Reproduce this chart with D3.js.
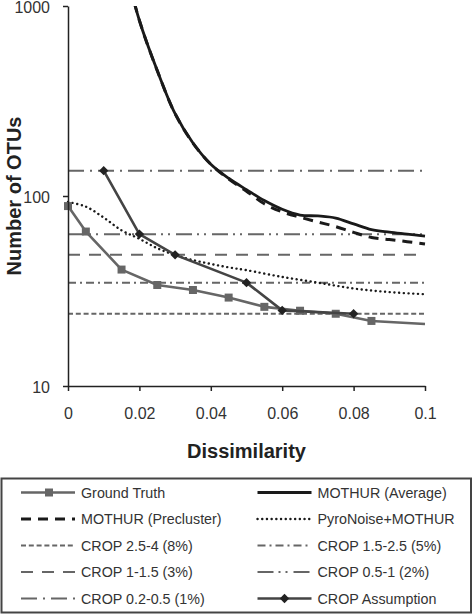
<!DOCTYPE html>
<html>
<head>
<meta charset="utf-8">
<script src="https://cdn.jsdelivr.net/npm/d3@7"></script>
<style>
  html, body { margin: 0; padding: 0; background: #fff; }
  svg { display: block; font-family: Arial, "Liberation Sans", sans-serif; }
</style>
</head>
<body>
<svg id="chart" width="475" height="614"></svg>
<script>
// ---------------- data ----------------
const xTicks = [0, 0.02, 0.04, 0.06, 0.08, 0.1];
const yTicks = [10, 100, 1000];

const groundTruthX = [0, 0.005, 0.015, 0.025, 0.035, 0.045, 0.055, 0.065, 0.075, 0.085];
const groundTruthY = [88.5, 65, 41, 34, 32, 29.2, 26.1, 24.9, 24, 22];
const groundTruthTailX = [0.1];
const groundTruthTailY = [21.2];

const mothurX = [0.015, 0.02, 0.025, 0.03, 0.035, 0.04, 0.045, 0.05, 0.055, 0.06,
                 0.065, 0.07, 0.075, 0.08, 0.085, 0.09, 0.095, 0.1];
const mothurAverageY = [1900, 839, 457, 271, 190, 147, 124, 108, 94.6, 85.1,
                        79.4, 78.5, 76.5, 71.3, 66.5, 64.5, 63, 61.5];
const mothurPreclusterY = [1900, 839, 457, 271, 190, 147, 123, 106, 91, 82.5,
                           77.3, 73, 69, 64.3, 60.5, 59, 57.5, 55.9];

const pyroX = [0, 0.005, 0.01, 0.015, 0.02, 0.025, 0.03, 0.035, 0.04, 0.045, 0.05,
               0.06, 0.07, 0.08, 0.09, 0.1];
const pyroY = [93, 87.9, 77, 66, 59.5, 53.1, 48.9, 46, 43.9, 42.1, 40.7,
               37.5, 35, 32.6, 31.2, 30.4];

const cropNames = ["CROP 2.5-4 (8%)", "CROP 1.5-2.5 (5%)", "CROP 1-1.5 (3%)",
                   "CROP 0.5-1 (2%)", "CROP 0.2-0.5 (1%)"];
const cropValues = [24, 35, 49, 63, 136];

const cropAssumptionX = [0.01, 0.02, 0.03, 0.05, 0.06, 0.08];
const cropAssumptionY = [136, 63, 49, 35, 25, 24];

const legendLabels = ["Ground Truth", "MOTHUR (Average)", "MOTHUR (Precluster)", "PyroNoise+MOTHUR",
  "CROP 2.5-4 (8%)", "CROP 1.5-2.5 (5%)", "CROP 1-1.5 (3%)", "CROP 0.5-1 (2%)",
  "CROP 0.2-0.5 (1%)", "CROP Assumption"];

// ---------------- styles ----------------
const cropDash = {
  "CROP 2.5-4 (8%)": "5,2.8",
  "CROP 1.5-2.5 (5%)": "8,4,2,4",
  "CROP 1-1.5 (3%)": "12,9",
  "CROP 0.5-1 (2%)": "16,5,2,5,2,6",
  "CROP 0.2-0.5 (1%)": "16,6,2,6"
};
const styles = {
  "Ground Truth": {stroke: "#666", width: 2.6, dash: null, marker: "square"},
  "MOTHUR (Average)": {stroke: "#1a1a1a", width: 2.8, dash: null},
  "MOTHUR (Precluster)": {stroke: "#1a1a1a", width: 3, dash: "10,7"},
  "PyroNoise+MOTHUR": {stroke: "#1a1a1a", width: 2.4, dash: "0.1,4.6", cap: "round"},
  "CROP Assumption": {stroke: "#444", width: 2.6, dash: null, marker: "diamond"}
};
cropNames.forEach(n => styles[n] = {stroke: "#666", width: 2, dash: cropDash[n]});

// ---------------- chart ----------------
const svg = d3.select("#chart");
const x = d3.scaleLinear().domain([0, 0.1]).range([68, 425]);
const y = d3.scaleLog().domain([10, 1000]).range([386, 6]);

svg.append("defs").append("clipPath").attr("id", "plotclip")
  .append("rect").attr("x", 60).attr("y", 6).attr("width", 372).attr("height", 385);

const plot = svg.append("g").attr("clip-path", "url(#plotclip)");

function applyStyle(sel, st) {
  sel.attr("fill", "none").attr("stroke", st.stroke).attr("stroke-width", st.width)
     .attr("stroke-linecap", st.cap || "butt").attr("stroke-linejoin", "round");
  if (st.dash) sel.attr("stroke-dasharray", st.dash);
  return sel;
}

// CROP horizontal threshold lines
cropNames.forEach((n, i) => {
  applyStyle(plot.append("line")
    .attr("x1", x(0)).attr("x2", x(0.1))
    .attr("y1", y(cropValues[i])).attr("y2", y(cropValues[i])), styles[n]);
});

const lineSmooth = d3.line().x(d => x(d[0])).y(d => y(d[1])).curve(d3.curveCatmullRom.alpha(0.5));
const lineStraight = d3.line().x(d => x(d[0])).y(d => y(d[1]));

// PyroNoise
applyStyle(plot.append("path").attr("d", lineSmooth(d3.zip(pyroX, pyroY))), styles["PyroNoise+MOTHUR"]);
// MOTHUR precluster & average
applyStyle(plot.append("path").attr("d", lineSmooth(d3.zip(mothurX, mothurPreclusterY))), styles["MOTHUR (Precluster)"]);
applyStyle(plot.append("path").attr("d", lineSmooth(d3.zip(mothurX, mothurAverageY))), styles["MOTHUR (Average)"]);

// Ground truth
const gtPts = d3.zip(groundTruthX, groundTruthY);
const gtAll = gtPts.concat(d3.zip(groundTruthTailX, groundTruthTailY));
applyStyle(plot.append("path").attr("d", lineStraight(gtAll)), styles["Ground Truth"]);

const squareSym = d3.symbol().type(d3.symbolSquare).size(64);
const diamondSym = d3.symbol().type(d3.symbolSquare).size(44);

plot.append("g").selectAll("path").data(gtPts).join("path")
  .attr("d", squareSym)
  .attr("transform", d => `translate(${x(d[0])},${y(d[1])})`)
  .attr("fill", "#666");

// CROP assumption
const caPts = d3.zip(cropAssumptionX, cropAssumptionY);
applyStyle(plot.append("path").attr("d", lineStraight(caPts)), styles["CROP Assumption"]);
plot.append("g").selectAll("path").data(caPts).join("path")
  .attr("d", diamondSym)
  .attr("transform", d => `translate(${x(d[0])},${y(d[1])}) rotate(45)`)
  .attr("fill", "#222");

// ---------------- axes ----------------
const xAxis = svg.append("g").attr("transform", "translate(0,386)")
  .call(d3.axisBottom(x).tickValues(xTicks).tickFormat(d => String(d)).tickSize(5).tickSizeOuter(0).tickPadding(17));
const yAxis = svg.append("g").attr("transform", "translate(68,0)")
  .call(d3.axisLeft(y).tickValues(yTicks).tickFormat(d3.format("d")).tickSize(5).tickSizeOuter(0).tickPadding(13));
[xAxis, yAxis].forEach(a => {
  a.select(".domain").attr("stroke", "#222").attr("stroke-width", 1.5);
  a.selectAll(".tick line").attr("stroke", "#222").attr("stroke-width", 1.5);
  a.selectAll(".tick text").attr("fill", "#333").style("font-size", "16px")
    .style("font-family", "Arial, 'Liberation Sans', sans-serif");
});
yAxis.selectAll(".tick text").attr("dy", "0.4em");

svg.append("text").attr("x", 246.5).attr("y", 458)
  .attr("text-anchor", "middle").attr("fill", "#222")
  .style("font-size", "20px").style("font-weight", "bold")
  .text("Dissimilarity");
svg.append("text").attr("transform", "translate(21,196) rotate(-90)")
  .attr("text-anchor", "middle").attr("fill", "#222")
  .style("font-size", "20px").style("font-weight", "bold")
  .text("Number of OTUs");

// ---------------- legend ----------------
const lg = svg.append("g");
lg.append("rect").attr("x", 1.5).attr("y", 478.5).attr("width", 469.5).attr("height", 134)
  .attr("fill", "#fff").attr("stroke", "#444").attr("stroke-width", 2);

const colX = [21, 257.5];
const rowY0 = 492.5, rowDy = 26.5;
legendLabels.forEach((name, i) => {
  const col = i % 2, row = Math.floor(i / 2);
  const lx = colX[col], ly = rowY0 + row * rowDy;
  const st = styles[name];
  applyStyle(lg.append("line").attr("x1", lx).attr("x2", lx + 54).attr("y1", ly).attr("y2", ly), st);
  if (st.marker === "square") {
    lg.append("path").attr("d", squareSym).attr("transform", `translate(${lx + 28},${ly})`).attr("fill", "#666");
  } else if (st.marker === "diamond") {
    lg.append("path").attr("d", diamondSym).attr("transform", `translate(${lx + 27},${ly}) rotate(45)`).attr("fill", "#222");
  }
  lg.append("text").attr("x", lx + 60).attr("y", ly).attr("dy", "0.36em")
    .attr("fill", "#333").style("font-size", "14.3px").text(name);
});
</script>
</body>
</html>
